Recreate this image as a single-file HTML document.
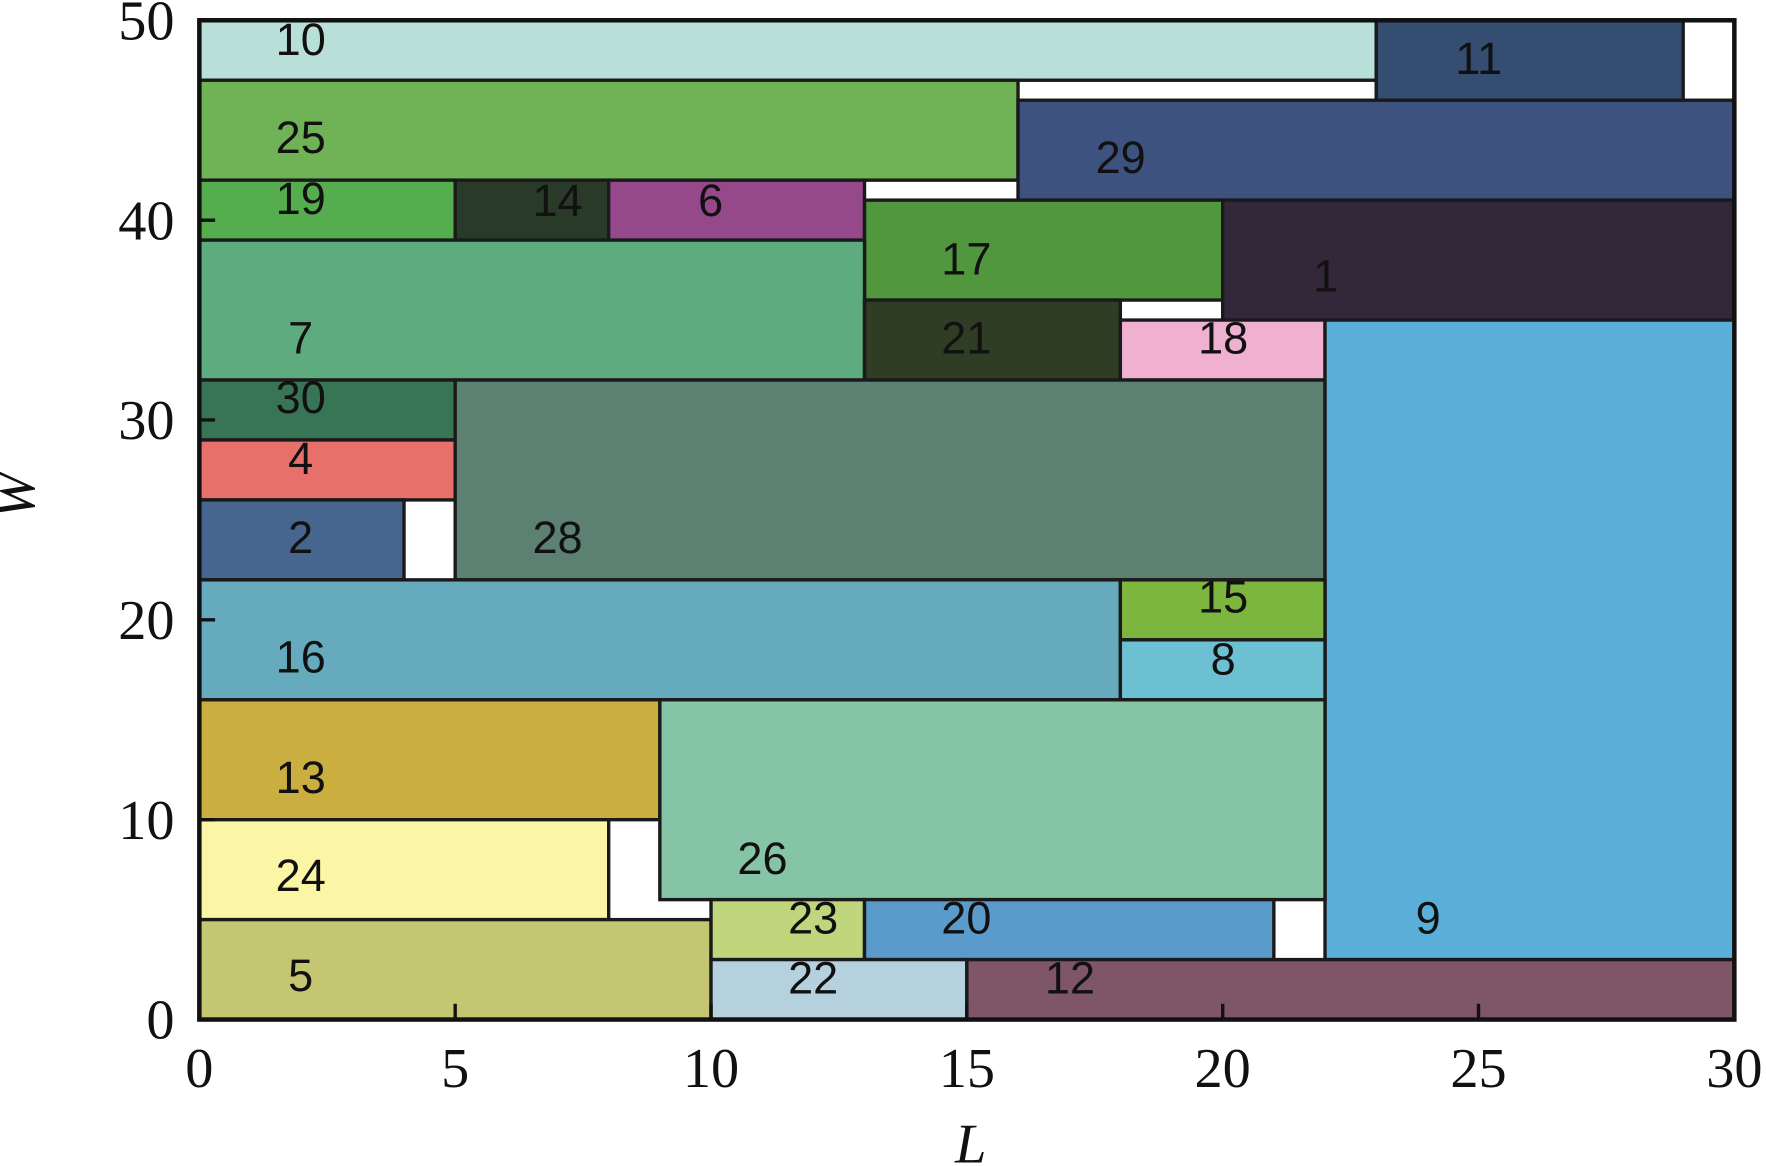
<!DOCTYPE html>
<html><head><meta charset="utf-8"><style>
html,body{margin:0;padding:0;background:#fff;overflow:hidden}
svg{display:block}
.lb{font-family:"Liberation Sans",sans-serif;font-size:40px;fill:#111;text-anchor:middle;dominant-baseline:central}
.tk{font-family:"Liberation Serif",serif;font-size:50px;fill:#111}
</style></head><body>
<svg id="s" width="1766" height="1166" viewBox="0 0 1568 1035" preserveAspectRatio="none" xmlns="http://www.w3.org/2000/svg">
<g id="r"></g><g id="t"></g>
<text class="tk" x="-440" y="30" transform="rotate(-90)" font-style="italic" text-anchor="middle" font-size="52">W</text>
<text class="tk" x="862" y="1032" font-style="italic" text-anchor="middle" font-size="52">L</text>
</svg>
<script>
const X=L=>177+L*45.43, Y=W=>905-W*17.74;
const R=[
[0,23,47,50,'#b8e0d8','10',267,35],[23,29,46,50,'#344d70','11',1313,52],
[0,16,42,47,'#6fb356','25',267,122],[16,30,41,46,'#3e5280','29',995,140],
[0,5,39,42,'#55ad4e','19',267,176],[5,8,39,42,'#2a3a28','14',495,178],
[8,13,39,42,'#95498a','6',631,178],[13,20,36,41,'#50973e','17',858,230],
[20,30,35,41,'#33283a','1',1177,245],[0,13,32,39,'#5eab7f','7',267,300],
[13,18,32,36,'#2f3d24','21',858,300],[18,22,32,35,'#efb1cf','18',1086,300],
[0,5,29,32,'#387555','30',267,353],[0,5,26,29,'#e8706a','4',267,407],
[0,4,22,26,'#466690','2',267,477],[5,22,22,32,'#5c8071','28',495,477],
[22,30,3,35,'#5aafd8','9',1268,815],[0,18,16,22,'#66abbd','16',267,583],
[18,22,19,22,'#7db63e','15',1086,530],[18,22,16,19,'#6dbfd2','8',1086,585],
[0,9,10,16,'#cbae40','13',267,690],[9,22,6,16,'#85c4a4','26',677,762],
[0,8,5,10,'#fbf5a6','24',267,777],[0,10,0,5,'#c4c672','5',267,866],
[10,13,3,6,'#c0d67c','23',722,815],[13,21,3,6,'#5a9bcc','20',858,815],
[10,15,0,3,'#b5d1dd','22',722,868],[15,30,0,3,'#7f5568','12',950,868]];
const ns='http://www.w3.org/2000/svg',g=document.getElementById('r'),t=document.getElementById('t');
function el(tag,a,p,txt){const e=document.createElementNS(ns,tag);for(const k in a)e.setAttribute(k,a[k]);if(txt)e.textContent=txt;p.appendChild(e);return e;}
for(const r of R){el('rect',{x:X(r[0]),y:Y(r[3]),width:X(r[1])-X(r[0]),height:Y(r[2])-Y(r[3]),fill:r[4],stroke:'#1a1a1a','stroke-width':3},g);}
for(const r of R){el('text',{class:'lb',x:r[6],y:r[7]},t,r[5]);}
el('rect',{x:X(0),y:Y(50),width:X(30)-X(0),height:Y(0)-Y(50),fill:'none',stroke:'#111','stroke-width':4},t);
for(let i=0;i<=6;i++){const x=X(i*5);el('line',{x1:x,x2:x,y1:Y(0),y2:Y(0)-14,stroke:'#111','stroke-width':3},t);
el('text',{class:'tk',x:x,y:965,'text-anchor':'middle'},t,String(i*5));}
for(let i=0;i<=5;i++){const y=Y(i*10);el('line',{x1:X(0),x2:X(0)+14,y1:y,y2:y,stroke:'#111','stroke-width':3},t);
el('text',{class:'tk',x:155,y:y+17,'text-anchor':'end'},t,String(i*10));}
</script>
</body></html>
